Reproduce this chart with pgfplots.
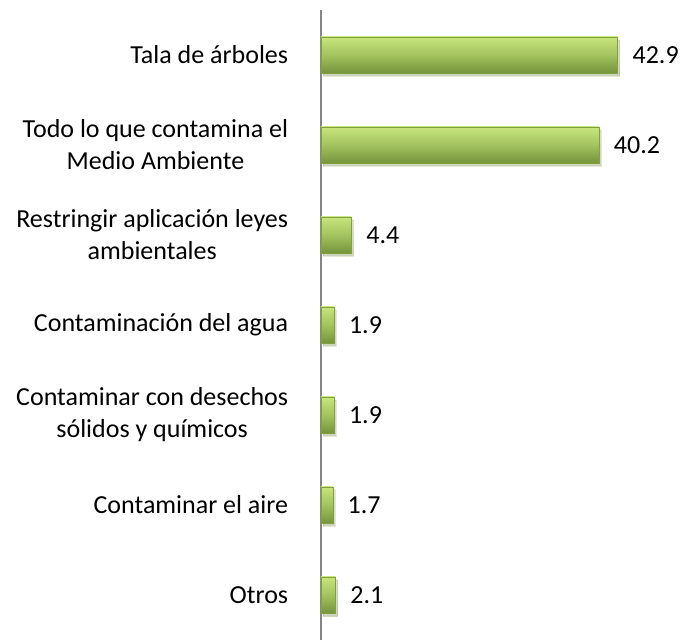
\documentclass[border=0pt]{standalone}
\usepackage{pgfplots}
\pgfplotsset{compat=1.18}
\usepackage{fontspec}
\setmainfont{Carlito}
\usetikzlibrary{shadows}
\definecolor{barmid}{HTML}{A2C35F}
\definecolor{bartop}{HTML}{C8E57E}
\definecolor{barbot}{HTML}{76943B}
\definecolor{baredge}{HTML}{80A042}
\definecolor{axgray}{HTML}{868686}
\pgfplotsset{greenbar/.style={xbar, bar shift=0pt, draw=baredge, line width=0.5pt,
  top color=bartop, bottom color=barbot, middle color=barmid,
  drop shadow={opacity=0.22, shadow xshift=2pt, shadow yshift=-3pt}}}
\begin{document}
\fontsize{26}{32}\selectfont
\begin{tikzpicture}
\begin{axis}[
  name=ax,
  xbar, bar width=36pt,
  scale only axis, width=361pt, height=630pt,
  xmin=0, xmax=52.2, ymin=-0.5, ymax=6.5, y dir=reverse,
  ytick={0,...,6},
  yticklabels={Tala de árboles,{Todo lo que contamina el\\Medio Ambiente},{Restringir aplicación leyes\\ambientales},Contaminación del agua,{Contaminar con desechos\\sólidos y químicos},Contaminar el aire,Otros},
  yticklabel style={align=center, font=\fontsize{26}{32}\selectfont, xshift=-24pt},
  major tick length=0pt,
  axis x line=none,
  axis y line*=left,
  y axis line style={draw=axgray, line width=1.5pt, -},
  nodes near coords,
  point meta=x,
  every node near coord/.append style={font=\fontsize{26}{32}\selectfont, anchor=west, xshift=6pt,
    /pgf/number format/.cd, fixed, fixed zerofill, precision=1, assume math mode=true},
  clip=false,
]
\addplot[greenbar] coordinates {(42.9,0)};
\addplot[greenbar] coordinates {(40.2,1)};
\addplot[greenbar] coordinates {(4.4,2)};
\addplot[greenbar] coordinates {(1.9,3)};
\addplot[greenbar] coordinates {(1.9,4)};
\addplot[greenbar] coordinates {(1.7,5)};
\addplot[greenbar] coordinates {(2.1,6)};
\end{axis}
\pgfresetboundingbox
\path[use as bounding box] ([xshift=-321pt]ax.south west) rectangle ([yshift=10pt]ax.north east);
\end{tikzpicture}
\end{document}
